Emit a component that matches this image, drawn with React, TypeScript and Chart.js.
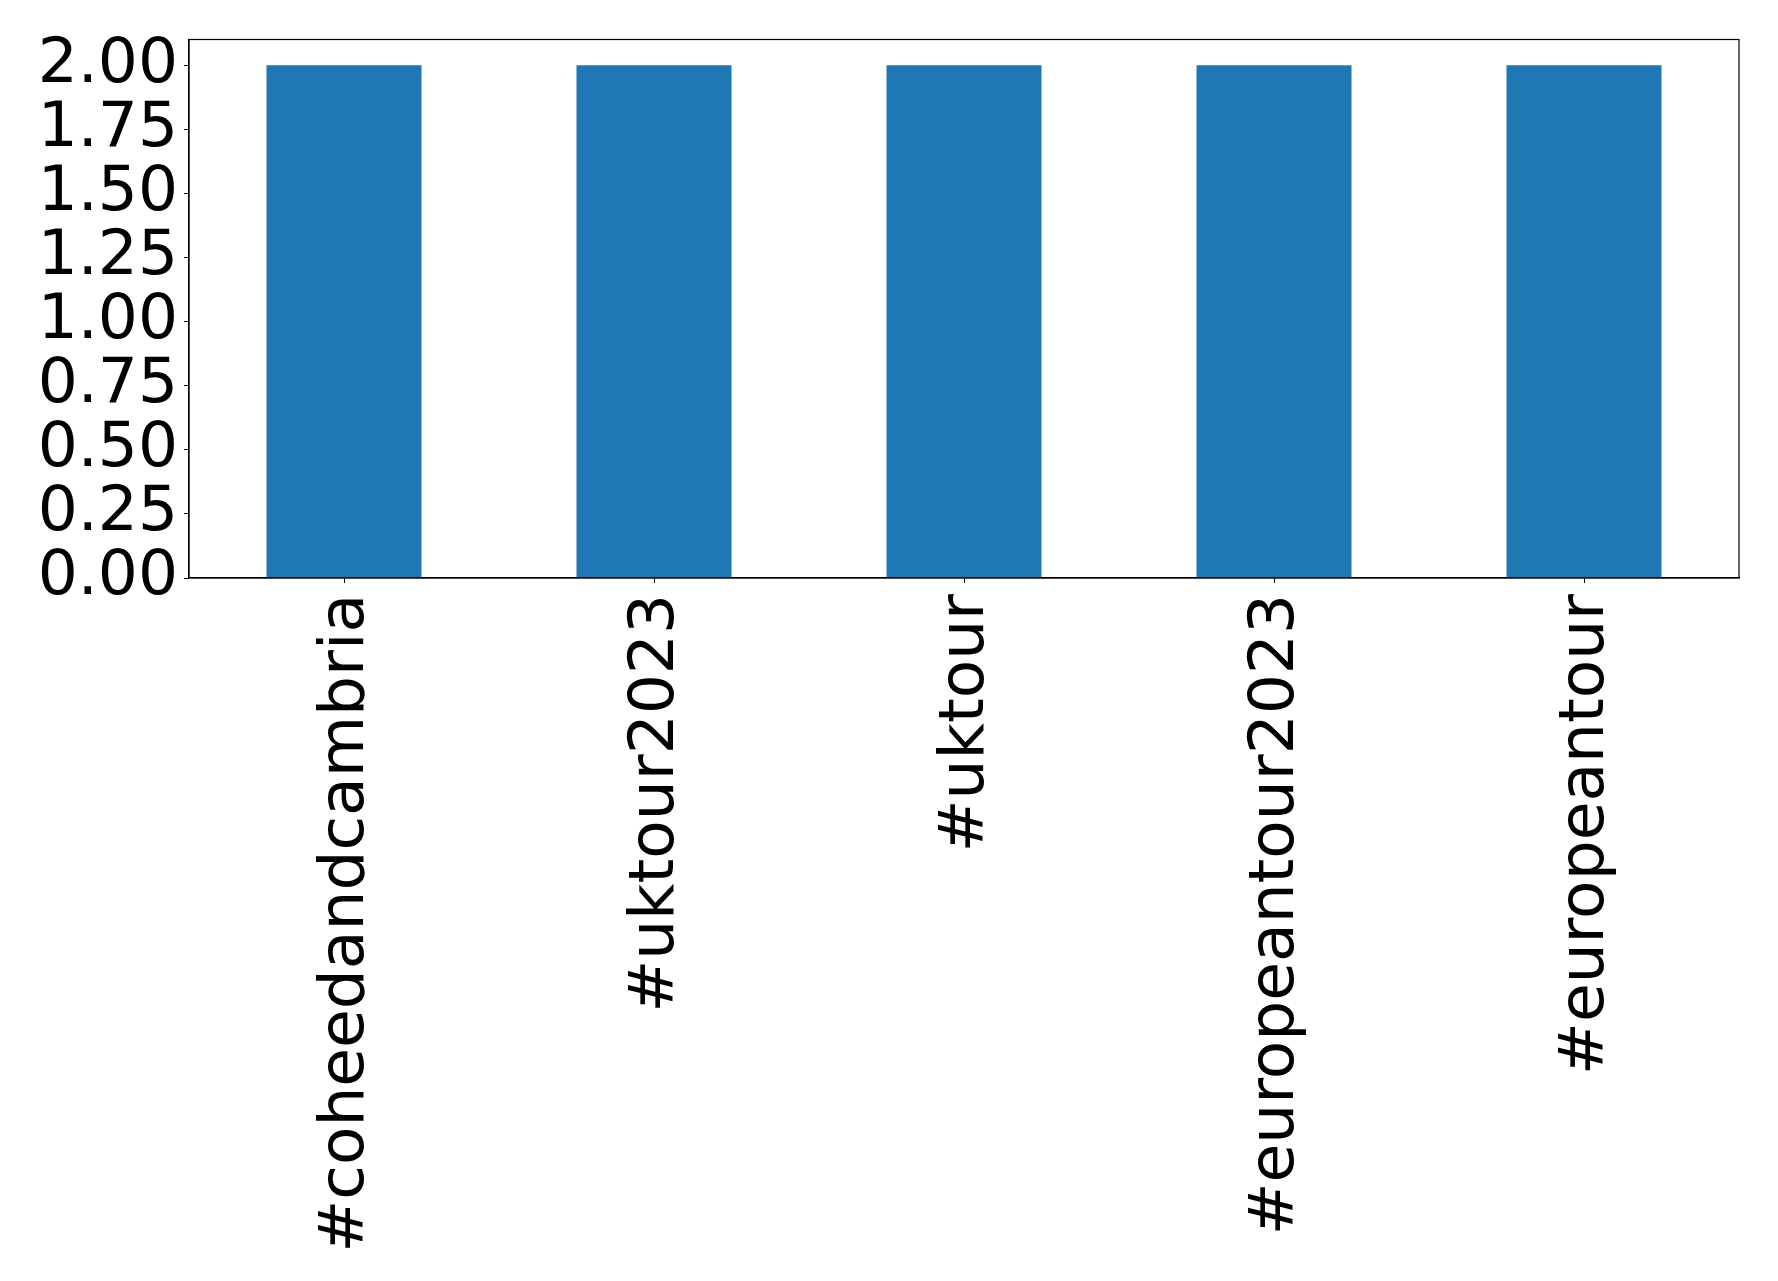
import React, { useEffect, useRef } from "react";
import { Chart, registerables } from "chart.js";

Chart.register(...registerables);

const categories = ["#coheedandcambria", "#uktour2023", "#uktour", "#europeantour2023", "#europeantour"];
const values = [2, 2, 2, 2, 2];
const yTicks = [0, 0.25, 0.5, 0.75, 1.0, 1.25, 1.5, 1.75, 2.0];

const FONT = "'DejaVu Sans', sans-serif";

export default function App() {
  const ref = useRef<HTMLCanvasElement | null>(null);
  useEffect(() => {
    document.body.style.margin = "0";
    const canvas = ref.current!;
    const framePlugin = {
      id: "frame",
      afterDraw(chart: any) {
        const { ctx, chartArea } = chart;
        ctx.save();
        ctx.strokeStyle = "#000";
        ctx.lineWidth = 1.2;
        ctx.strokeRect(chartArea.left, chartArea.top, chartArea.right - chartArea.left, chartArea.bottom - chartArea.top);
        ctx.restore();
      },
    };
    const chart = new Chart(canvas, {
      type: "bar",
      data: {
        datasets: [
          {
            data: values.map((v, i) => ({ x: i, y: v })),
            backgroundColor: "#1f77b4",
            borderWidth: 0,
            barPercentage: 0.5,
            categoryPercentage: 1,
          },
        ],
      },
      options: {
        responsive: false,
        animation: false,
        layout: { padding: { top: 39.5, right: 39, left: 0, bottom: 0 } },
        plugins: { legend: { display: false }, tooltip: { enabled: false } },
        scales: {
          x: {
            type: "linear",
            min: -0.5,
            max: 4.5,
            offset: false,
            afterBuildTicks(scale: any) {
              scale.ticks = categories.map((_, i) => ({ value: i }));
            },
            afterFit(scale: any) {
              scale.height = 1281 - 578;
              scale.paddingLeft = 0;
              scale.paddingRight = 0;
            },
            grid: { offset: false, drawOnChartArea: false, drawTicks: true, tickLength: 5, color: "#000" },
            border: { display: true, color: "#000", width: 1.2 },
            ticks: {
              autoSkip: false,
              minRotation: 90,
              maxRotation: 90,
              padding: 11,
              labelOffset: 3,
              color: "#000",
              font: { family: FONT, size: 63 },
              callback: (v: any) => categories[Math.round(Number(v))] ?? "",
            },
          },
          y: {
            min: 0,
            max: 2.1,
            afterBuildTicks(scale: any) {
              scale.ticks = yTicks.map((v) => ({ value: v }));
            },
            afterFit(scale: any) {
              scale.width = 189;
              scale.paddingTop = 0;
              scale.paddingBottom = 0;
            },
            grid: { drawOnChartArea: false, drawTicks: true, tickLength: 5, color: "#000" },
            border: { display: true, color: "#000", width: 1.2 },
            ticks: {
              autoSkip: false,
              padding: 6,
              color: "#000",
              font: { family: FONT, size: 63 },
              callback: (v: any) => Number(v).toFixed(2),
            },
          },
        },
      },
      plugins: [framePlugin],
    } as any);
    return () => chart.destroy();
  }, []);
  return <canvas ref={ref} width={1778} height={1281} style={{ display: "block" }} />;
}
